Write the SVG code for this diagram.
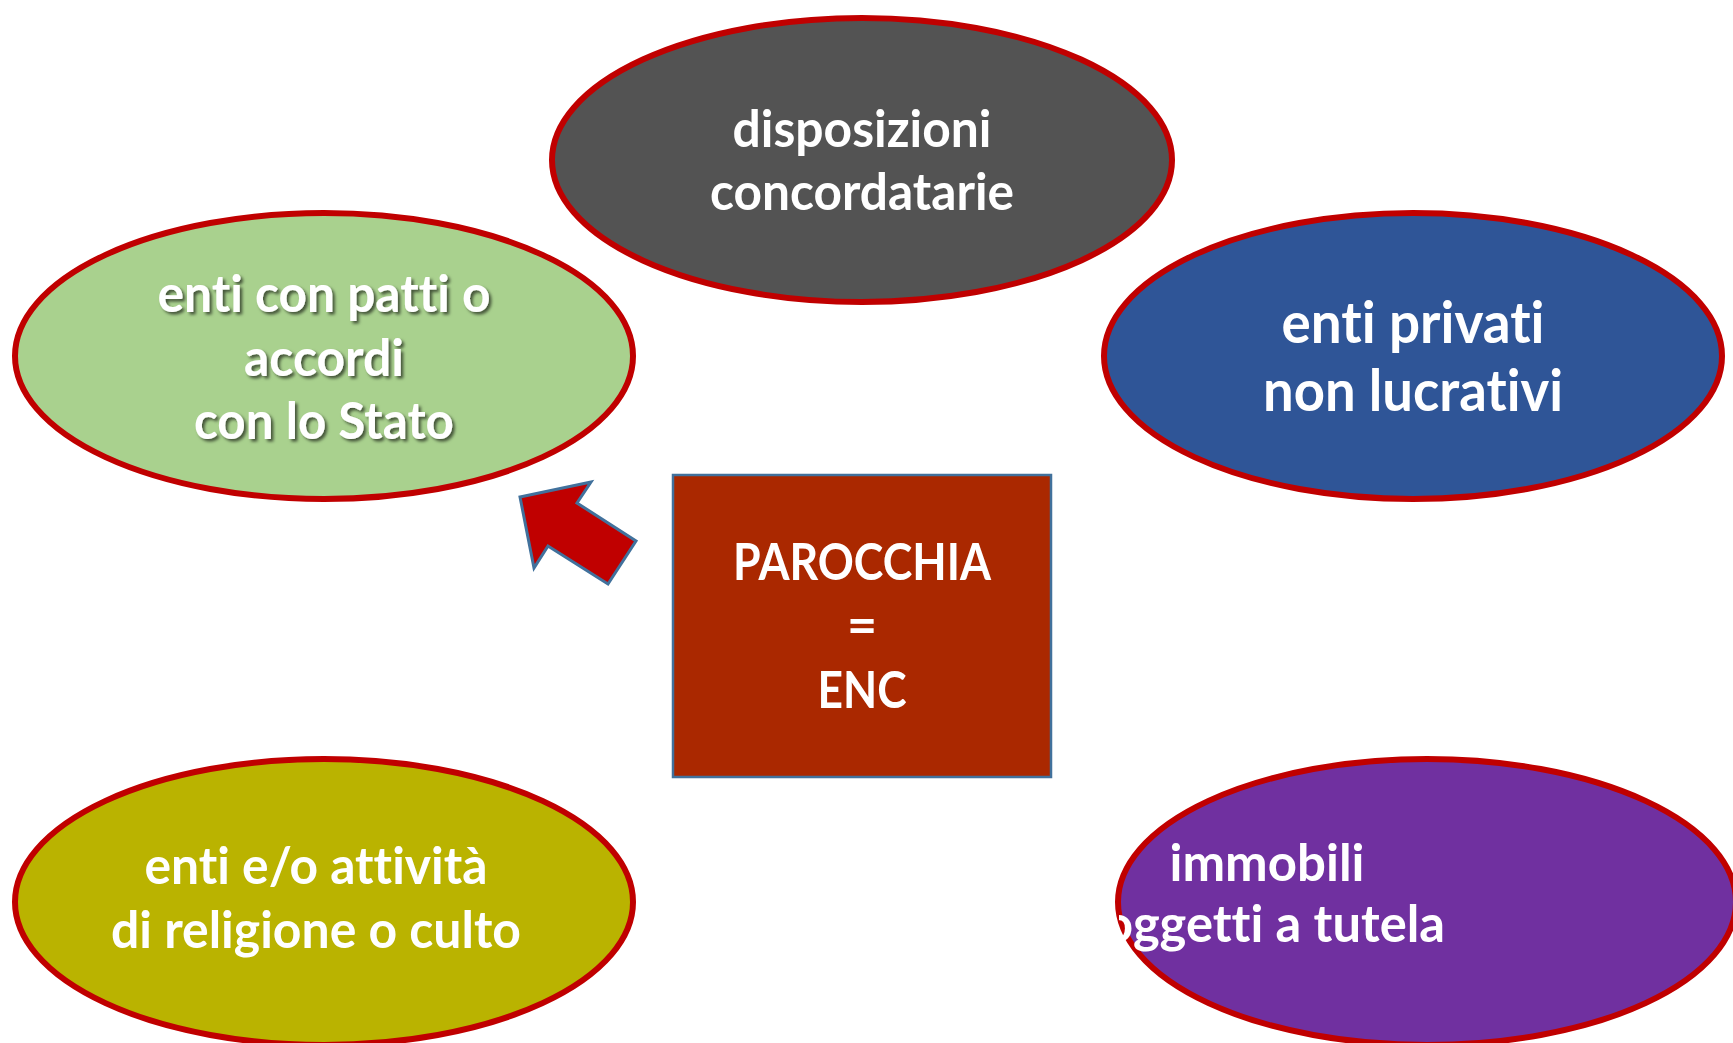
<svg xmlns="http://www.w3.org/2000/svg" width="1733" height="1043" viewBox="0 0 1733 1043">
<style>
.ell{stroke:#C00000;stroke-width:6}
.t{font-family:Lato,"Open Sans","Liberation Sans",sans-serif;font-weight:bold;fill:#FFFFFF;font-size:52px;text-anchor:middle;font-variant-ligatures:none;font-feature-settings:"liga" 0,"clig" 0,"dlig" 0}
.big{font-size:57px}
</style>
<defs>
<filter id="sh" x="-10%" y="-20%" width="120%" height="150%">
<feDropShadow dx="2.5" dy="2.5" stdDeviation="1.5" flood-color="#000000" flood-opacity="0.6"/>
</filter>
<clipPath id="clipP"><rect x="1119" y="740" width="620" height="303"/></clipPath>
</defs>
<rect width="1733" height="1043" fill="#FFFFFF"/>

<g id="disposizioni">
<ellipse class="ell" cx="862" cy="160" rx="310" ry="142" fill="#535353"/>
<text class="t" x="862" y="147" textLength="259" lengthAdjust="spacingAndGlyphs">disposizioni</text>
<text class="t" x="862" y="210" textLength="304" lengthAdjust="spacingAndGlyphs">concordatarie</text>
</g>

<g id="enti-patti">
<ellipse class="ell" cx="324" cy="356" rx="309" ry="143" fill="#A9D18E"/>
<g filter="url(#sh)">
<text class="t" x="324" y="312" textLength="333" lengthAdjust="spacingAndGlyphs">enti con patti o</text>
<text class="t" x="324" y="376" textLength="160" lengthAdjust="spacingAndGlyphs">accordi</text>
<text class="t" x="324" y="439" textLength="260" lengthAdjust="spacingAndGlyphs">con lo Stato</text>
</g>
</g>

<g id="enti-privati">
<ellipse class="ell" cx="1413" cy="356" rx="309" ry="143" fill="#2F5597"/>
<text class="t big" x="1413" y="343" textLength="263" lengthAdjust="spacingAndGlyphs">enti privati</text>
<text class="t big" x="1413" y="411" textLength="300" lengthAdjust="spacingAndGlyphs">non lucrativi</text>
</g>

<g id="religione-culto">
<ellipse class="ell" cx="324" cy="902" rx="309" ry="143" fill="#BAB300"/>
<text class="t" x="316" y="884" textLength="343" lengthAdjust="spacingAndGlyphs">enti e/o attività</text>
<text class="t" x="316" y="948" textLength="410" lengthAdjust="spacingAndGlyphs">di religione o culto</text>
</g>

<g id="immobili">
<ellipse class="ell" cx="1427" cy="902" rx="309" ry="143" fill="#7030A0"/>
<text class="t" x="1267" y="881" textLength="195" lengthAdjust="spacingAndGlyphs">immobili</text>
<text class="t" x="1104" y="942" style="text-anchor:start" textLength="341" lengthAdjust="spacingAndGlyphs" clip-path="url(#clipP)">oggetti a tutela</text>
</g>

<g id="parocchia">
<rect x="673" y="475" width="378" height="302" fill="#AA2800" stroke="#41719C" stroke-width="2.5"/>
<text class="t" x="862" y="580" textLength="258" lengthAdjust="spacingAndGlyphs">PAROCCHIA</text>
<text class="t" x="862" y="643">=</text>
<text class="t" x="862" y="708" textLength="89" lengthAdjust="spacingAndGlyphs">ENC</text>
</g>

<g id="connectors">
<polygon points="520,497 591,482 577,503 636,541 608,584 548,546 534,568" fill="#C00000" stroke="#41719C" stroke-width="3" stroke-linejoin="miter"/>
</g>
</svg>
